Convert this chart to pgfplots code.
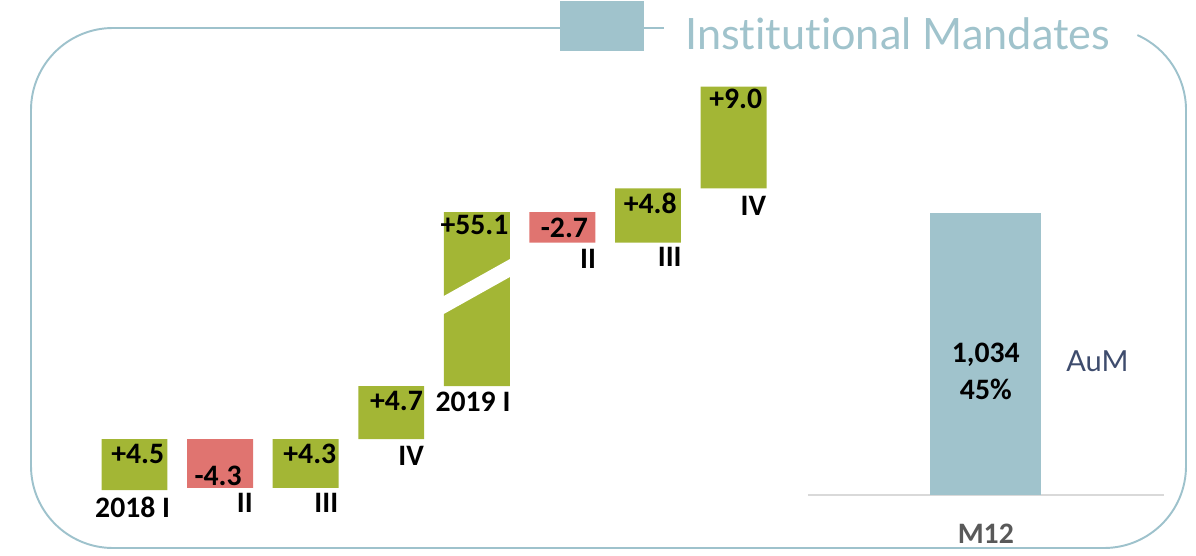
\documentclass[border=0pt]{standalone}
\usepackage{pgfplots}
\pgfplotsset{compat=1.18}
\usepackage{pgfplotstable}
\usepackage{fontspec}
\setmainfont{Carlito}
\newfontfamily\gill[Ligatures=NoCommon]{Lato}

\definecolor{upgreen}{HTML}{A3B635}
\definecolor{downred}{HTML}{E07470}
\definecolor{aumblue}{HTML}{A0C3CC}
\definecolor{framecol}{HTML}{9EC2CC}
\definecolor{aumtext}{HTML}{3E4C6D}
\definecolor{basegrey}{HTML}{D9D9D9}
\definecolor{labgrey}{HTML}{595959}

% waterfall in drawn units; the 2019 I bar (+55.1) is drawn cut short
\pgfplotstableread{
x base up down
0 0    4.5  0
1 0.2  0    4.3
2 0.2  4.3  0
3 4.5  4.7  0
4 9.2  15.4 0
5 21.9 0    2.7
6 21.9 4.8  0
7 26.7 9.0  0
}\flows

\pgfplotsset{wf/.style={at={(1.834cm,1.3cm)}, anchor=south west, scale only axis,
  width=13.696cm, height=9.04cm,
  xmin=-0.5, xmax=7.5, ymin=0, ymax=40, hide axis, clip=false}}

\begin{document}
\begin{tikzpicture}[x=0.02cm, y=0.02cm,
  lab/.style={font=\fontsize{16.9}{18}\selectfont\bfseries, inner sep=0pt}]
\useasboundingbox (0,0) rectangle (1196,555);

% frame and title
\draw[framecol, line width=1.1pt] (560,527) -- (113,527)
  arc[start angle=90, end angle=180, radius=82] -- (31,89)
  arc[start angle=180, end angle=270, radius=82] -- (1104,7)
  arc[start angle=270, end angle=360, radius=82] -- (1186,445)
  arc[start angle=0, end angle=66, radius=82];
\draw[framecol, line width=1.1pt] (644,527) -- (664,527);
\fill[aumblue] (560,504) rectangle (644,554);
\node[anchor=base west, inner sep=0pt, text=aumblue, font=\gill\fontsize{24.6}{28}\selectfont] at (685,505) {Institutional Mandates};
\node[anchor=base west, inner sep=0pt, text=aumtext, font=\gill\fontsize{16.5}{18}\selectfont] at (1066,184) {AuM};

\begin{axis}[wf, ybar stacked, bar width=0.77]
\addplot[fill=none, draw=none] table[x=x, y=base] {\flows};
\addplot[fill=upgreen, draw=none] table[x=x, y=up] {\flows};
\addplot[fill=downred, draw=none] table[x=x, y=down] {\flows};
\end{axis}

% same frame again, drawn on top of the bars
\begin{axis}[wf]
% break in the 2019 I bar
\fill[white] (axis cs:3.6,15.52) -- (axis cs:4.4,18.91) -- (axis cs:4.4,20.50) -- (axis cs:3.6,17.11) -- cycle;

% value labels
\node[lab, anchor=base east] at ([xshift=-0.06cm, yshift=-0.48cm]axis cs:0.385,4.5) {+4.5};
\node[lab, anchor=base east] at ([xshift=-0.22cm, yshift=0.04cm]axis cs:1.385,0.2) {-4.3};
\node[lab, anchor=base east] at ([xshift=-0.04cm, yshift=-0.48cm]axis cs:2.385,4.5) {+4.3};
\node[lab, anchor=base east] at ([xshift=-0.02cm, yshift=-0.48cm]axis cs:3.385,9.2) {+4.7};
\node[lab, anchor=base east] at ([xshift=-0.02cm, yshift=-0.44cm]axis cs:4.385,24.6) {+55.1};
\node[lab, anchor=base east] at ([xshift=-0.14cm, yshift=0.1cm]axis cs:5.385,21.9) {-2.7};
\node[lab, anchor=base east] at ([xshift=-0.08cm, yshift=-0.5cm]axis cs:6.385,26.7) {+4.8};
\node[lab, anchor=base east] at ([xshift=-0.08cm, yshift=-0.44cm]axis cs:7.385,35.7) {+9.0};

% period labels
\node[lab, anchor=base east] at ([xshift=0.06cm, yshift=-0.54cm]axis cs:0.385,0) {2018 I};
\node[lab, anchor=base east] at ([yshift=-0.5cm]axis cs:1.385,0.2) {II};
\node[lab, anchor=base east] at ([yshift=-0.5cm]axis cs:2.385,0.2) {III};
\node[lab, anchor=base east] at ([yshift=-0.52cm]axis cs:3.385,4.5) {IV};
\node[lab, anchor=base east] at ([xshift=0.02cm, yshift=-0.5cm]axis cs:4.385,9.2) {2019 I};
\node[lab, anchor=base east] at ([xshift=0.02cm, yshift=-0.52cm]axis cs:5.385,21.9) {II};
\node[lab, anchor=base east] at ([xshift=0.02cm, yshift=-0.48cm]axis cs:6.385,21.9) {III};
\node[lab, anchor=base east] at ([yshift=-0.54cm]axis cs:7.385,26.7) {IV};
\end{axis}

\begin{axis}[at={(16.16cm,1.2cm)}, anchor=south west, scale only axis,
  width=7.12cm, height=6.0cm,
  xmin=0, xmax=1, ymin=0, ymax=1100,
  axis x line=bottom, axis y line=none, xtick=\empty, ytick=\empty,
  x axis line style={draw=basegrey, line width=1pt, -},
  clip=false, ybar, bar width=0.312]
\addplot[fill=aumblue, draw=none] coordinates {(0.5,1034)};
\node[lab, anchor=base] at ([yshift=2.66cm]axis cs:0.5,0) {1,034};
\node[lab, anchor=base] at ([yshift=1.92cm]axis cs:0.5,0) {45\%};
\node[lab, anchor=base, text=labgrey] at ([yshift=-0.96cm]axis cs:0.5,0) {M12};
\end{axis}
\end{tikzpicture}
\end{document}
